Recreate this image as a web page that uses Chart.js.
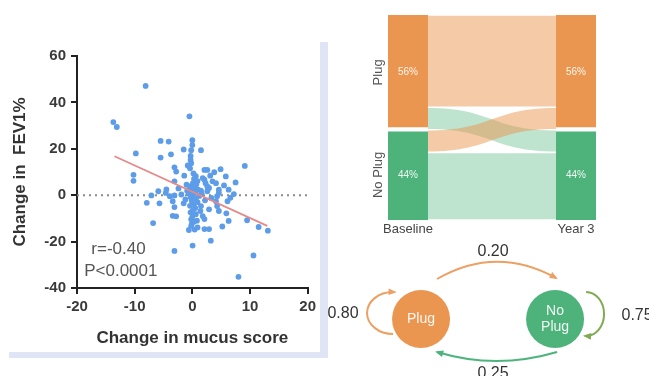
<!DOCTYPE html>
<html>
<head>
<meta charset="utf-8">
<script src="https://cdn.jsdelivr.net/npm/chart.js@4.4.1/dist/chart.umd.min.js"></script>
<style>
  body { margin: 0; background: #fff; width: 649px; height: 376px; overflow: hidden; position: relative; }
  canvas { position: absolute; }
  #scatterChart { left: 0; top: 0; }
  #sankeyChart { left: 340px; top: 0; }
  #stateChart { left: 320px; top: 240px; }
  .band { position: absolute; background: #dfe5f4; }
</style>
</head>
<body>
<div class="band" style="left:320px;top:42px;width:8px;height:316px"></div>
<div class="band" style="left:9px;top:352px;width:319px;height:6px"></div>
<canvas id="scatterChart" width="320" height="352"></canvas>
<canvas id="sankeyChart" width="309" height="240"></canvas>
<canvas id="stateChart" width="329" height="136"></canvas>
<script>
// --- scatter: change in mucus score vs change in FEV1% ---
const mucusChange = [
  -8.1,-13.7,-13.1,-0.5,-5.5,-4.1,0,0,-0.2,-1.5,
  1.5,-3.7,-5.5,-9.8,-0.3,-0.3,-0.2,-0.4,9.1,-3.1,
  -2.8,2.1,2.6,3.8,4.9,5.8,7.5,-10.2,-10.2,-1.4,
  1.8,2.3,3.5,-3.1,0.2,0.6,0.3,0.9,0.1,0.7,
  -0.4,0.4,-0.2,1,0.5,-0.6,0.2,1.2,-0.3,0.6,
  -0.1,0.9,0.2,-0.4,0.5,0.1,-0.3,0.6,0,-0.2,
  0.3,-0.1,-0.2,0.9,2.1,2.9,3.2,0.05,-3.1,10.6,
  8,9.5,11.5,13.1,5.2,6.3,5.9,4.6,4.3,2.9,
  1.5,1.8,2.1,-3.4,-2.8,-6.8,-3.1,-5.7,-7.9,-7.1,
  -5.9,-4.6,-3.9,-3.1,-1.9,-4.5,4.6,4.3,6.3,6.6,
  6.1,2.9,2.6,4.1,4.6,4.1,2.6,2.1,1.5,-1,
  -1.2,1.4,-0.8,0.8,-0.9,1.6,-2.4,2.2,3.3,-1.5,
  7.2,5.5,3.1,-0.6,0.4,-3.4
];
const fev1Change = [
  47.1,31.5,29.4,34,23.4,23.1,23.7,21.6,19.4,19.7,
  19.4,17.6,16.2,18,16.9,15.2,13.8,11.6,12.6,12,
  10.2,10.9,10.9,9.9,11.2,8.1,5.5,8.8,6.2,8.4,
  7.4,5.2,6,6,9.4,8.2,7,6.1,5.2,4.7,
  3.8,3,2.2,2.4,1.4,0.7,0.2,-0.3,-0.8,-1.5,
  -2.4,-3,-3.8,-4.6,-5.5,-6.5,-7.4,-8.2,-9.3,-10.4,
  -11.4,-12.4,-13.2,-13.9,-14.6,-14.6,-19.6,-21.7,-24,-26,
  -35.2,-10.8,-13.7,-15.3,-13.5,-11.1,-7.8,-6.8,-4.7,-6.1,
  -4.7,-9,-10.3,-8.9,-9.1,-12,-5.1,-3.5,-3.3,-0.1,
  1.7,1,-0.4,-0.1,0.3,2.5,2.4,-0.4,2.4,-1.1,
  -2.6,3.1,1.7,5.2,1,-2.6,3.8,6.7,2,4.5,
  -1.8,-6.8,12.8,-11,1.9,0.8,2.9,-2.2,-1.2,-3.5,
  0.5,4.2,8.4,-15,-14.8,-2.6
];
const fitX = [-13.5, 13];
const fitY = [16.8, -13.2];
const statsText = ['r=-0.40', 'P<0.0001'];

// --- sankey: plug status baseline -> year 3 ---
const stages = ['Baseline', 'Year 3'];
const states = ['Plug', 'No Plug'];
const baselinePct = [56, 44];
const year3Pct = [56, 44];
const flowFrom = ['Plug', 'Plug', 'No Plug', 'No Plug'];
const flowTo = ['Plug', 'No Plug', 'Plug', 'No Plug'];
const flowPct = [45, 11, 11, 33];

// --- transition probabilities (rows = from, cols = to) ---
const transitionProbs = [[0.80, 0.20], [0.25, 0.75]];

const FONT = "'Liberation Sans', Arial, sans-serif";
Chart.defaults.font.family = FONT;
const orange = '#EB9650';
const green = '#4DB37B';

// ---------- scatter ----------
const statsLabels = {
  id: 'statsLabels',
  afterDatasetsDraw(chart) {
    const {ctx, scales: {x, y}} = chart;
    ctx.save();
    ctx.font = '17px ' + FONT;
    ctx.fillStyle = '#555';
    ctx.textAlign = 'center';
    ctx.textBaseline = 'middle';
    ctx.fillText(statsText[0], x.getPixelForValue(-12.8), y.getPixelForValue(-23.5));
    ctx.fillText(statsText[1], x.getPixelForValue(-12.4), y.getPixelForValue(-32.8));
    ctx.restore();
  }
};

const axisTicks = {
  font: {size: 15, weight: 'bold'},
  color: '#3a3a3a'
};

new Chart(document.getElementById('scatterChart'), {
  type: 'scatter',
  data: {
    datasets: [
      {
        type: 'line',
        data: [{x: -20, y: 0}, {x: 20, y: 0}],
        borderColor: '#8a8a8a',
        borderDash: [2, 4],
        borderWidth: 2,
        pointRadius: 0,
        order: 2
      },
      {
        type: 'line',
        data: fitX.map((x, i) => ({x: x, y: fitY[i]})),
        borderColor: '#e48a8a',
        borderWidth: 1.8,
        pointRadius: 0,
        order: 0
      },
      {
        data: mucusChange.map((x, i) => ({x: x, y: fev1Change[i]})),
        backgroundColor: '#5c9ce8',
        pointRadius: 2.9,
        borderWidth: 0,
        order: 1
      }
    ]
  },
  options: {
    responsive: false,
    animation: false,
    events: [],
    devicePixelRatio: 1,
    layout: {autoPadding: false, padding: {top: 56, right: 10, left: 0, bottom: 0}},
    plugins: {legend: {display: false}, tooltip: {enabled: false}},
    scales: {
      x: {
        type: 'linear',
        min: -20, max: 20,
        ticks: Object.assign({stepSize: 10, padding: 4}, axisTicks),
        grid: {drawOnChartArea: false, color: '#222', lineWidth: 2, tickLength: 6},
        border: {color: '#222', width: 2},
        title: {display: true, text: 'Change in mucus score', color: '#333',
                font: {size: 17, weight: 'bold'}, padding: {top: 4, bottom: 3}},
        afterFit(s) { s.height = 64; }
      },
      y: {
        min: -40, max: 60,
        ticks: Object.assign({stepSize: 20, padding: 5}, axisTicks),
        grid: {drawOnChartArea: false, color: '#222', lineWidth: 2, tickLength: 6},
        border: {color: '#222', width: 2},
        title: {display: true, text: 'Change in  FEV1%', color: '#333',
                font: {size: 17, weight: 'bold'}, padding: {top: 10, bottom: 0}},
        afterFit(s) { s.width = 77; }
      }
    }
  },
  plugins: [statsLabels]
});

// ---------- sankey ----------
const stateColors = {'Plug': orange, 'No Plug': green};
const flowColors = {'Plug': 'rgba(235,150,80,0.5)', 'No Plug': 'rgba(76,178,120,0.36)'};

const sankeyFlows = {
  id: 'sankeyFlows',
  beforeDatasetsDraw(chart) {
    const {ctx, scales: {y}} = chart;
    const bars = chart.getDatasetMeta(0).data;
    const x0 = bars[0].x + bars[0].width / 2;
    const x1 = bars[1].x - bars[1].width / 2;
    const xm = (x0 + x1) / 2;
    const srcTop = {}, dstTop = {};
    let t0 = baselinePct.reduce((a, b) => a + b, 0);
    let t1 = year3Pct.reduce((a, b) => a + b, 0);
    states.forEach((s, i) => {
      srcTop[s] = t0; t0 -= baselinePct[i];
      dstTop[s] = t1; t1 -= year3Pct[i];
    });
    ctx.save();
    flowPct.forEach((v, i) => {
      const a0 = srcTop[flowFrom[i]], a1 = a0 - v;
      const b0 = dstTop[flowTo[i]], b1 = b0 - v;
      srcTop[flowFrom[i]] = a1;
      dstTop[flowTo[i]] = b1;
      const ya0 = y.getPixelForValue(a0) + 0.8, ya1 = y.getPixelForValue(a1) - 0.8;
      const yb0 = y.getPixelForValue(b0) + 0.8, yb1 = y.getPixelForValue(b1) - 0.8;
      ctx.beginPath();
      ctx.moveTo(x0, ya0);
      ctx.bezierCurveTo(xm, ya0, xm, yb0, x1, yb0);
      ctx.lineTo(x1, yb1);
      ctx.bezierCurveTo(xm, yb1, xm, ya1, x0, ya1);
      ctx.closePath();
      ctx.fillStyle = flowColors[flowTo[i]];
      ctx.fill();
    });
    ctx.restore();
  },
  afterDatasetsDraw(chart) {
    const {ctx} = chart;
    ctx.save();
    ctx.textAlign = 'center';
    ctx.textBaseline = 'middle';
    chart.data.datasets.forEach((ds, di) => {
      chart.getDatasetMeta(di).data.forEach((bar, j) => {
        const cy = (bar.y + bar.base) / 2;
        ctx.font = '10px ' + FONT;
        ctx.fillStyle = 'rgba(255,255,255,0.9)';
        ctx.fillText(ds.data[j].y + '%', bar.x, cy);
        if (j === 0) {
          ctx.save();
          ctx.translate(bar.x - bar.width / 2 - 10, cy);
          ctx.rotate(-Math.PI / 2);
          ctx.font = '13px ' + FONT;
          ctx.fillStyle = '#555';
          ctx.fillText(ds.label, 0, 0);
          ctx.restore();
        }
      });
    });
    ctx.restore();
  }
};

const sankeyDatasets = states.slice().reverse().map(s => {
  const i = states.indexOf(s);
  const isTop = i === 0;
  return {
    label: s,
    data: [{x: 0, y: baselinePct[i]}, {x: 1, y: year3Pct[i]}],
    backgroundColor: stateColors[s],
    borderColor: '#fff',
    borderWidth: isTop ? {top: 0, left: 0, right: 0, bottom: 3} : {top: 2, left: 0, right: 0, bottom: 0},
    borderSkipped: false,
    barThickness: 40
  };
});

new Chart(document.getElementById('sankeyChart'), {
  type: 'bar',
  data: {datasets: sankeyDatasets},
  options: {
    responsive: false,
    animation: false,
    events: [],
    devicePixelRatio: 1,
    layout: {autoPadding: false, padding: {top: 15, left: 48, right: 53, bottom: 0}},
    plugins: {legend: {display: false}, tooltip: {enabled: false}},
    scales: {
      x: {
        type: 'linear',
        stacked: true,
        offset: false,
        min: -0.119, max: 1.119,
        afterBuildTicks(s) { s.ticks = stages.map((_, i) => ({value: i})); },
        ticks: {
          callback: (v, i) => stages[i],
          autoSkip: false, maxRotation: 0, padding: 2,
          color: '#444', font: {size: 13}
        },
        grid: {display: false, drawTicks: false},
        border: {display: false},
        afterFit(s) { s.height = 20; }
      },
      y: {display: false, stacked: true, min: 0, max: 100}
    }
  },
  plugins: [sankeyFlows]
});

// ---------- state transition diagram ----------
function arrowHead(ctx, x, y, ang, color) {
  const s = 7;
  ctx.beginPath();
  ctx.moveTo(x + Math.cos(ang) * 2, y + Math.sin(ang) * 2);
  ctx.lineTo(x - s * Math.cos(ang - 0.5), y - s * Math.sin(ang - 0.5));
  ctx.lineTo(x - s * Math.cos(ang + 0.5), y - s * Math.sin(ang + 0.5));
  ctx.closePath();
  ctx.fillStyle = color;
  ctx.fill();
}

function drawLoop(ctx, cx, cy, rx, ry, a0, a1, color) {
  ctx.beginPath();
  ctx.ellipse(cx, cy, rx, ry, 0, a0, a1, false);
  ctx.strokeStyle = color;
  ctx.stroke();
  const ex = cx + rx * Math.cos(a1), ey = cy + ry * Math.sin(a1);
  arrowHead(ctx, ex, ey, Math.atan2(ry * Math.cos(a1), -rx * Math.sin(a1)), color);
}

function drawArc(ctx, sx, sy, qx, qy, ex, ey, color) {
  ctx.beginPath();
  ctx.moveTo(sx, sy);
  ctx.quadraticCurveTo(qx, qy, ex, ey);
  ctx.strokeStyle = color;
  ctx.stroke();
  arrowHead(ctx, ex, ey, Math.atan2(ey - qy, ex - qx), color);
}

const stateDiagram = {
  id: 'stateDiagram',
  beforeDatasetsDraw(chart) {
    const {ctx} = chart;
    const pts = chart.getDatasetMeta(0).data;
    const a = pts[0], b = pts[1];
    const r = a.options.radius;
    const mid = (a.x + b.x) / 2;
    ctx.save();
    ctx.lineWidth = 2;
    drawLoop(ctx, a.x - r + 1, a.y - 6, 26, 21, Math.PI / 2, Math.PI * 1.52, '#eca064');
    drawLoop(ctx, b.x + r + 2, b.y - 5, 18, 22, -Math.PI / 2, Math.PI * 0.52, '#80ab52');
    drawArc(ctx, a.x + 16, a.y - 40, mid + 8, a.y - 74, b.x + 1, b.y - 41, '#eca064');
    drawArc(ctx, b.x + 2, b.y + 33, mid + 8, b.y + 51, a.x + 16, a.y + 33, '#4db47e');

    ctx.font = '16px ' + FONT;
    ctx.fillStyle = '#333';
    ctx.textAlign = 'center';
    ctx.textBaseline = 'middle';
    ctx.fillText(transitionProbs[0][0].toFixed(2), a.x - 78, a.y - 5);
    ctx.fillText(transitionProbs[0][1].toFixed(2), mid + 5, a.y - 67);
    ctx.fillText(transitionProbs[1][0].toFixed(2), mid + 5, b.y + 55);
    ctx.fillText(transitionProbs[1][1].toFixed(2), b.x + 82, b.y - 3);
    ctx.restore();
  },
  afterDatasetsDraw(chart) {
    const {ctx} = chart;
    ctx.save();
    ctx.font = '14px ' + FONT;
    ctx.fillStyle = 'rgba(255,255,255,0.92)';
    ctx.textAlign = 'center';
    ctx.textBaseline = 'middle';
    chart.getDatasetMeta(0).data.forEach((p, i) => {
      const lines = states[i].split(' ');
      lines.forEach((ln, k) => {
        ctx.fillText(ln, p.x, p.y + (k - (lines.length - 1) / 2) * 16);
      });
    });
    ctx.restore();
  }
};

new Chart(document.getElementById('stateChart'), {
  type: 'scatter',
  data: {
    datasets: [{
      data: states.map((s, i) => ({x: i, y: 0})),
      pointRadius: 29,
      pointHoverRadius: 29,
      pointBackgroundColor: states.map(s => stateColors[s]),
      pointBorderWidth: 0
    }]
  },
  options: {
    responsive: false,
    animation: false,
    events: [],
    devicePixelRatio: 1,
    layout: {autoPadding: false, padding: 0},
    plugins: {legend: {display: false}, tooltip: {enabled: false}},
    scales: {
      x: {display: false, min: -0.754, max: 1.701},
      y: {display: false, min: -0.7215, max: 1}
    }
  },
  plugins: [stateDiagram]
});
</script>
</body>
</html>
